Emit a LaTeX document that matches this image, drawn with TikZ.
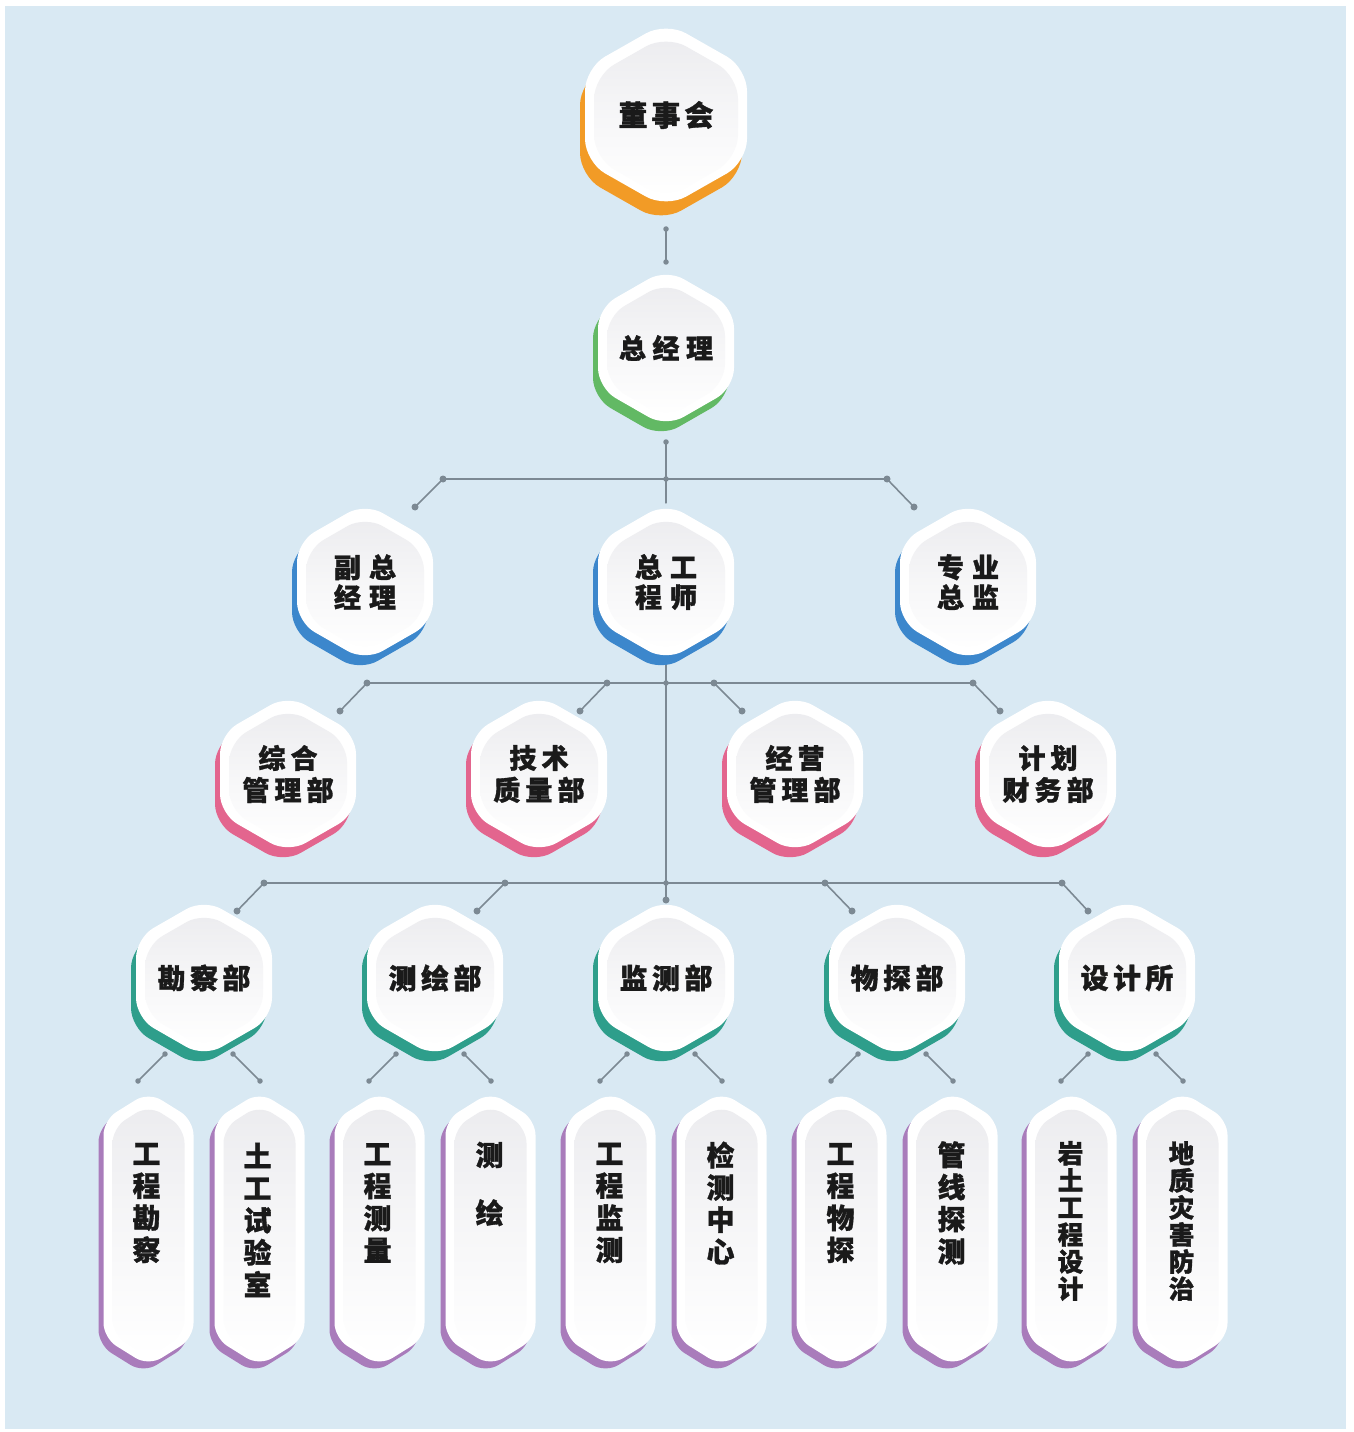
\documentclass[tikz,border=0pt]{standalone}
\usepackage{fontspec}
\newfontfamily\cjk{Noto Sans CJK SC}[BoldFeatures={FakeBold=1.2}]
\usetikzlibrary{calc}
\definecolor{bgblue}{HTML}{D9E9F3}
\definecolor{lgray}{HTML}{7C8993}
\definecolor{cOrange}{HTML}{F29B26}
\definecolor{cGreen}{HTML}{62B964}
\definecolor{cBlue}{HTML}{3C87CC}
\definecolor{cPink}{HTML}{E3658E}
\definecolor{cTeal}{HTML}{2E9E8B}
\definecolor{cPurple}{HTML}{A97CBB}
\definecolor{face}{HTML}{ECECEF}
\definecolor{ink}{HTML}{1A1A1A}
\pgfdeclarelayer{bglayer}
\pgfdeclarelayer{connlayer}
\pgfsetlayers{bglayer,connlayer,main}
% hexagon path: options, cx, cy, half width, half height, shoulder drop
\newcommand\hexdraw[6]{%
  \path[#1] ({#2},{(#3)-(#5)}) -- ({(#2)+(#4)},{(#3)-(#5)+(#6)}) -- ({(#2)+(#4)},{(#3)+(#5)-(#6)}) -- ({#2},{(#3)+(#5)}) -- ({(#2)-(#4)},{(#3)+(#5)-(#6)}) -- ({(#2)-(#4)},{(#3)-(#5)+(#6)}) -- cycle;}
% hex node: [style]{name}{cx}{cy}{colour}{text}
\newcommand\hexnode[6][]{%
  \hexdraw{fill=#5, rounded corners=\hexrc, shift={(-5,\hexdy)}}{#3}{#4}{\hexa}{\hexb}{\hexs}
  \hexdraw{fill=white, rounded corners=\hexrc}{#3}{#4}{\hexa}{\hexb}{\hexs}
  \hexdraw{top color=face, bottom color=white, middle color=face!45!white, rounded corners=\hexrc}{#3}{(#4)+2}{\hexa-9}{\hexb-11}{\hexs-5}
  \node[hexlabel, minimum width=\hexa*0.04cm, minimum height=\hexb*0.04cm, #1] (#2) at (#3,#4) {#6};}
\newcommand\gapA{\hspace{0.08cm}}
\newcommand\gapB{\hspace{0.13cm}}
\newcommand\gapC{\hspace{0.16cm}}
\newcommand\gapD{\hspace{0.10cm}}
\newcommand\gapE{\hspace{0.09cm}}
\newcommand\dotL[1]{\fill[lgray] (#1) circle[radius=0.07cm];}
\newcommand\dotS[1]{\fill[lgray] (#1) circle[radius=0.055cm];}
\begin{document}
\begin{tikzpicture}[x=0.02cm,y=-0.02cm,
  conn/.style={draw=lgray, line width=1.3pt, line cap=round},
  diag/.style={draw=lgray, line width=0.9pt, line cap=round},
  hexlabel/.style={inner sep=0pt, align=center, text=ink, font=\cjk\bfseries},
  f0/.style={font=\cjk\bfseries\fontsize{16.5pt}{19pt}\selectfont},
  f1/.style={font=\cjk\bfseries\fontsize{15.4pt}{18pt}\selectfont},
  f2/.style={font=\cjk\bfseries\fontsize{15.4pt}{17.1pt}\selectfont},
  f3/.style={font=\cjk\bfseries\fontsize{15.4pt}{18.2pt}\selectfont},
  f4/.style={font=\cjk\bfseries\fontsize{15.9pt}{18pt}\selectfont},
  ft/.style={hexlabel, font=\cjk\bfseries\fontsize{15.9pt}{18.3pt}\selectfont},
  ftw/.style={hexlabel, font=\cjk\bfseries\fontsize{15.9pt}{33pt}\selectfont},
  fts/.style={hexlabel, font=\cjk\bfseries\fontsize{14.6pt}{15.4pt}\selectfont}]
\begin{pgfonlayer}{bglayer}
\fill[white] (0,0) rectangle (1353,1432);
\fill[bgblue] (5,6) rectangle (1346,1429);
\end{pgfonlayer}
\useasboundingbox (0,0) rectangle (1353,1432);

% ---------- level 0
\def\hexa{81}\def\hexb{93}\def\hexs{46}\def\hexdy{14}\def\hexrc{0.46cm}
\hexnode[f0]{bd}{666}{115}{cOrange}{董\gapA 事\gapA 会}
% ---------- levels 1-4
\def\hexa{68}\def\hexb{79}\def\hexs{39}\def\hexdy{10}\def\hexrc{0.4cm}
\hexnode[f1]{gm}{666}{348}{cGreen}{总\gapB 经\gapB 理}
\hexnode[f2]{vp}{365}{582}{cBlue}{副\gapC 总\\经\gapC 理}
\hexnode[f2]{ce}{666}{582}{cBlue}{总\gapC 工\\程\gapC 师}
\hexnode[f2]{sd}{968}{582}{cBlue}{专\gapC 业\\总\gapC 监}
\hexnode[f3]{d1}{288}{774}{cPink}{综\gapD 合\\管\gapD 理\gapD 部}
\hexnode[f3]{d2}{539}{774}{cPink}{技\gapD 术\\质\gapD 量\gapD 部}
\hexnode[f3]{d3}{795}{774}{cPink}{经\gapD 营\\管\gapD 理\gapD 部}
\hexnode[f3]{d4}{1048}{774}{cPink}{计\gapD 划\\财\gapD 务\gapD 部}
\hexnode[f4]{u1}{204}{978}{cTeal}{勘\gapE 察\gapE 部}
\hexnode[f4]{u2}{435}{978}{cTeal}{测\gapE 绘\gapE 部}
\hexnode[f4]{u3}{666}{978}{cTeal}{监\gapE 测\gapE 部}
\hexnode[f4]{u4}{897}{978}{cTeal}{物\gapE 探\gapE 部}
\hexnode[f4]{u5}{1127}{978}{cTeal}{设\gapE 计\gapE 所}
% ---------- level 5 (tall)
\def\hexa{45}\def\hexb{137}\def\hexs{28}\def\hexdy{7}\def\hexrc{0.3cm}
\hexnode{t1}{148.5}{1229}{cPurple}{}
\hexnode{t2}{259.5}{1229}{cPurple}{}
\hexnode{t3}{379.5}{1229}{cPurple}{}
\hexnode{t4}{490.5}{1229}{cPurple}{}
\hexnode{t5}{610.5}{1229}{cPurple}{}
\hexnode{t6}{721.5}{1229}{cPurple}{}
\hexnode{t7}{841.5}{1229}{cPurple}{}
\hexnode{t8}{952.5}{1229}{cPurple}{}
\hexnode{t9}{1071.5}{1229}{cPurple}{}
\hexnode{t10}{1182.5}{1229}{cPurple}{}
\node[ft] (t1x) at (146.5,1203) {工\\程\\勘\\察};
\node[ft] (t2x) at (257.5,1220) {土\\工\\试\\验\\室};
\node[ft] (t3x) at (377.5,1203) {工\\程\\测\\量};
\node[ftw] (t4x) at (489.5,1184) {测\\绘};
\node[ft] (t5x) at (609.5,1203) {工\\程\\监\\测};
\node[ft] (t6x) at (720.5,1203) {检\\测\\中\\心};
\node[ft] (t7x) at (840.5,1203) {工\\程\\物\\探};
\node[ft] (t8x) at (951.5,1203) {管\\线\\探\\测};
\node[fts] (t9x) at (1070.5,1221) {岩\\土\\工\\程\\设\\计};
\node[fts] (t10x) at (1181.5,1221) {地\\质\\灾\\害\\防\\治};

% ---------- connectors
\coordinate (a0) at (666,229);
\coordinate (a1) at (666,262);
\coordinate (gmo) at (666,442);
\coordinate (j1l) at (443,479);
\coordinate (j1c) at (666,479);
\coordinate (j1r) at (887,479);
\coordinate (e1l) at (415,507);
\coordinate (e1r) at (914,507);
\coordinate (j2a) at (367,683);
\coordinate (j2b) at (607,683);
\coordinate (j2c) at (666,683);
\coordinate (j2d) at (714,683);
\coordinate (j2e) at (973,683);
\coordinate (e2a) at (340,711);
\coordinate (e2b) at (580,711);
\coordinate (e2d) at (742,711);
\coordinate (e2e) at (1000,711);
\coordinate (j3a) at (264,883);
\coordinate (j3b) at (505,883);
\coordinate (j3c) at (666,883);
\coordinate (j3d) at (825,883);
\coordinate (j3e) at (1062,883);
\coordinate (e3a) at (237,911);
\coordinate (e3b) at (477,911);
\coordinate (e3c) at (666,900);
\coordinate (e3d) at (852,911);
\coordinate (e3e) at (1088,911);
\begin{pgfonlayer}{connlayer}
\draw[conn, line width=1.1pt] (a0) -- (a1);
\dotS{a0}\dotS{a1}
\draw[conn] (gmo) -- (j1c) -- (ce);
\draw[conn] (ce) -- (j2c) -- (j3c) -- (e3c);
\draw[conn] (j1l) -- (j1r);
\draw[diag] (j1l) -- (e1l);
\draw[diag] (j1r) -- (e1r);
\draw[conn] (j2a) -- (j2e);
\draw[diag] (j2a) -- (e2a);
\draw[diag] (j2b) -- (e2b);
\draw[diag] (j2d) -- (e2d);
\draw[diag] (j2e) -- (e2e);
\draw[conn] (j3a) -- (j3e);
\draw[diag] (j3a) -- (e3a);
\draw[diag] (j3b) -- (e3b);
\draw[diag] (j3d) -- (e3d);
\draw[diag] (j3e) -- (e3e);
\dotS{gmo}\dotS{j1c}\dotS{j2c}\dotS{j3c}
\foreach \p in {j1l,j1r,e1l,e1r,j2a,j2b,j2d,j2e,e2a,e2b,e2d,e2e,j3a,j3b,j3d,j3e,e3a,e3b,e3c,e3d,e3e}{\dotL{\p}}
\foreach \cx in {204,435,666,897,1127}{
  \coordinate (q1) at (\cx-39,1054);
  \coordinate (q2) at (\cx-66,1081);
  \coordinate (q3) at (\cx+29,1054);
  \coordinate (q4) at (\cx+56,1081);
  \draw[diag] (q1) -- (q2);
  \draw[diag] (q3) -- (q4);
  \dotS{q1}\dotS{q2}\dotS{q3}\dotS{q4}
}
\end{pgfonlayer}
\end{tikzpicture}
\end{document}
